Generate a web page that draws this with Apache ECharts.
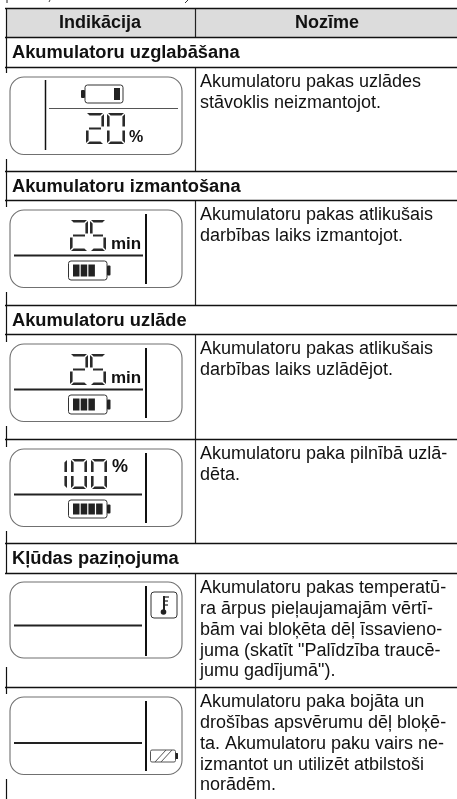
<!DOCTYPE html>
<html>
<head>
<meta charset="utf-8">
<style>html,body{margin:0;padding:0;background:#fff}#chart{width:457px;height:799px}</style>
<script src="https://cdn.jsdelivr.net/npm/echarts@6/dist/echarts.min.js"></script>
</head>
<body>
<div id="chart"></div>
<script>
const headers = ["Indikācija", "Nozīme"];
const sections = ["Akumulatoru uzglabāšana", "Akumulatoru izmantošana", "Akumulatoru uzlāde", "Kļūdas paziņojuma"];
const meanings = [
  ["Akumulatoru pakas uzlādes", "stāvoklis neizmantojot."],
  ["Akumulatoru pakas atlikušais", "darbības laiks izmantojot."],
  ["Akumulatoru pakas atlikušais", "darbības laiks uzlādējot."],
  ["Akumulatoru paka pilnībā uzlā-", "dēta."],
  ["Akumulatoru pakas temperatū-", "ra ārpus pieļaujamajām vērtī-", "bām vai bloķēta dēļ īssavieno-", "juma (skatīt \"Palīdzība traucē-", "jumu gadījumā\")."],
  ["Akumulatoru paka bojāta un", "drošības apsvērumu dēļ bloķē-", "ta. Akumulatoru paku vairs ne-", "izmantot un utilizēt atbilstoši", "norādēm."]
];
const displayDigits = ["20", "25", "25", "100", "", ""];
const displayUnits = ["%", "min", "min", "%", "", ""];
const batteryBars = [1, 3, 3, 4, 0, 0];

// layout of the table, in picture pixels
const ruleY = [8, 37, 67, 171, 200, 305, 334, 439, 543, 573, 687];
const leftRule = [[8, 73], [159, 207], [292, 342], [426, 447], [531, 573], [667, 694], [779, 799]];
const rowTextY = [67, 200, 334, 439, 573, 687];
const panelY = [77, 210, 344, 449, 582, 697];
const colX = 195;
const FONT = "'Liberation Sans'";

const SEG = {
  0: "abcdef", 1: "bc", 2: "abged", 5: "afgcd"
};

function line(api, x1, y1, x2, y2, w, color) {
  const a = api.coord([x1, y1]), b = api.coord([x2, y2]);
  return { type: "line", shape: { x1: a[0], y1: a[1], x2: b[0], y2: b[1] }, style: { stroke: color || "#111", lineWidth: w } };
}
function box(api, x, y, w, h, r, style) {
  const a = api.coord([x, y]);
  return { type: "rect", shape: { x: a[0], y: a[1], width: w, height: h, r: r }, style: style };
}
function poly(api, pts, fill) {
  return { type: "polygon", shape: { points: pts.map(p => api.coord(p)) }, style: { fill: fill || "#2a2a2a" } };
}
function label(api, x, y, s, font, align) {
  const a = api.coord([x, y]);
  return { type: "text", style: { x: a[0], y: a[1], text: s, font: font, align: align || "left", verticalAlign: "middle", fill: "#111" } };
}

// seven segment digit, thin bevelled strokes
function digit(api, ch, x, y, w, h) {
  const t = 2.6, g = 1, m = y + h / 2, out = [];
  const on = SEG[ch] || "";
  const s = {
    a: [[x + g, y], [x + w - g, y], [x + w - g - t, y + t], [x + g + t, y + t]],
    d: [[x + g, y + h], [x + w - g, y + h], [x + w - g - t, y + h - t], [x + g + t, y + h - t]],
    g: [[x + 3, m - 1], [x + w - 3, m - 1], [x + w - 3, m + 1], [x + 3, m + 1]],
    f: [[x, y + g], [x + t, y + g + t], [x + t, m - 2], [x, m - 2]],
    e: [[x, y + h - g], [x + t, y + h - g - t], [x + t, m + 2], [x, m + 2]],
    b: [[x + w, y + g], [x + w - t, y + g + t], [x + w - t, m - 2], [x + w, m - 2]],
    c: [[x + w, y + h - g], [x + w - t, y + h - g - t], [x + w - t, m + 2], [x + w, m + 2]]
  };
  for (const k of on) out.push(poly(api, s[k]));
  return out;
}

function battery(api, x, y, w, h, bars, nubLeft) {
  const out = [box(api, x, y, w, h, 2.5, { fill: "#fff", stroke: "#333", lineWidth: 1 })];
  if (nubLeft) {
    out.push(box(api, x - 4, y + 5, 4, h - 10, 1, { fill: "#222" }));
    out.push(box(api, x + w - 9, y + 3, 6, h - 6, 0, { fill: "#222" }));
  } else {
    out.push(box(api, x + w, y + 4.5, 3.5, h - 9, 1, { fill: "#222" }));
    for (let i = 0; i < bars; i++) out.push(box(api, x + 4.5 + i * 7.7, y + 3.5, 6.5, h - 7, 0, { fill: "#222" }));
  }
  return out;
}

function renderPanel(params, api) {
  const i = api.value(0), y0 = panelY[i], kids = [];
  kids.push(box(api, 10, y0, 172, i === 4 ? 76 : 77.5, 14, { fill: "#fff", stroke: "#707070", lineWidth: 1.1 }));
  const digits = displayDigits[i], unit = displayUnits[i], bars = batteryBars[i];
  if (i === 0) {
    kids.push(line(api, 45.5, y0 + 3, 45.5, y0 + 73, 1.5, "#111"));
    kids.push(line(api, 49, y0 + 31.5, 178, y0 + 31.5, 1, "#555"));
    kids.push(...battery(api, 85, y0 + 8, 38, 18, bars, true));
    kids.push(...digit(api, digits[0], 86, y0 + 36, 18, 31));
    kids.push(...digit(api, digits[1], 107, y0 + 36, 18, 31));
    kids.push(label(api, 129, y0 + 61, unit, "bold 16px " + FONT));
  } else {
    kids.push(line(api, 146, y0 + 4, 146, y0 + 74, 2, "#111"));
    const hy = i === 4 ? 43.5 : i === 5 ? 46 : 45.5;
    kids.push(line(api, 14, y0 + hy, i === 1 || i === 2 ? 143 : 142, y0 + hy, 2, "#222"));
    if (i === 1 || i === 2) {
      kids.push(...digit(api, digits[0], 70, y0 + 10, 18, 31));
      kids.push(...digit(api, digits[1], 90, y0 + 10, 16, 31));
      kids.push(label(api, 111, y0 + 34, unit, "bold 17px " + FONT));
      kids.push(...battery(api, 68.5, y0 + 51, 38.5, 19, bars));
    }
    if (i === 3) {
      kids.push(...digit(api, digits[0], 63, y0 + 10, 4, 30));
      kids.push(...digit(api, digits[1], 71, y0 + 10, 16, 30));
      kids.push(...digit(api, digits[2], 91, y0 + 10, 16, 30));
      kids.push(label(api, 112, y0 + 18, unit, "bold 18px " + FONT));
      kids.push(...battery(api, 68.5, y0 + 51, 38.5, 18, bars));
    }
    if (i === 4) {
      kids.push(box(api, 151, y0 + 10, 26, 26, 3, { fill: "#fff", stroke: "#333", lineWidth: 1 }));
      kids.push(line(api, 164, y0 + 14, 164, y0 + 30, 2, "#222"));
      kids.push(line(api, 165, y0 + 15, 169, y0 + 15, 1.2, "#222"));
      kids.push(line(api, 165, y0 + 19, 168, y0 + 19, 1.2, "#222"));
      kids.push(line(api, 165, y0 + 23, 168, y0 + 23, 1.2, "#222"));
      const c = api.coord([163.5, y0 + 30]);
      kids.push({ type: "circle", shape: { cx: c[0], cy: c[1], r: 2.8 }, style: { fill: "#222" } });
    }
    if (i === 5) {
      kids.push(box(api, 150.5, y0 + 53, 25, 12, 1.5, { fill: "#fff", stroke: "#555", lineWidth: 1 }));
      kids.push(box(api, 175.5, y0 + 56, 2.5, 6, 0.5, { fill: "#222" }));
      kids.push(line(api, 155, y0 + 65, 166, y0 + 53, 1, "#555"));
      kids.push(line(api, 161, y0 + 65, 172, y0 + 53, 1, "#555"));
    }
  }
  return { type: "group", children: kids };
}

function renderTable(params, api) {
  const kids = [];
  kids.push(box(api, 6, ruleY[0], 451, ruleY[1] - ruleY[0], 0, { fill: "#dcdcdc" }));
  // top edge of the page text, cut off by the crop
  kids.push(line(api, 7, 0, 7, 3, 1, "#222"), line(api, 50, 0, 49, 2, 1, "#444"), line(api, 188, 0, 185, 3, 1, "#333"));
  kids.push(label(api, 100, 23, headers[0], "bold 18px " + FONT, "center"));
  kids.push(label(api, 327, 23, headers[1], "bold 18px " + FONT, "center"));
  // section titles sit between the rules 1-2, 3-4, 5-6, 8-9
  [[1, 0], [3, 1], [5, 2], [8, 3]].forEach(p => {
    kids.push(label(api, 12, ruleY[p[0]] + 15.5, sections[p[1]], "bold 18.3px " + FONT));
  });
  meanings.forEach((rows, i) => {
    rows.forEach((s, j) => kids.push(label(api, 200, rowTextY[i] + 15.5 + j * 20.7, s, "18px " + FONT)));
  });
  // column rule skips the section rows
  kids.push(line(api, colX + 0.5, ruleY[0], colX + 0.5, ruleY[1], 1.2, "#222"));
  [[2, 3], [4, 5], [6, 7], [7, 8], [9, 10]].forEach(p => {
    kids.push(line(api, colX + 0.5, ruleY[p[0]], colX + 0.5, ruleY[p[1]], 1.2, "#222"));
  });
  kids.push(line(api, colX + 0.5, ruleY[10], colX + 0.5, 799, 1.2, "#222"));
  leftRule.forEach(r => kids.push(line(api, 6.5, r[0], 6.5, r[1], 1.2, "#111")));
  ruleY.forEach(y => kids.push(line(api, 5, y + 0.5, 457, y + 0.5, 1.3, "#111")));
  return { type: "group", children: kids };
}

const chart = echarts.init(document.getElementById("chart"), null, { renderer: "canvas" });
chart.setOption({
  animation: false,
  grid: { left: 0, right: 0, top: 0, bottom: 0 },
  xAxis: { type: "value", min: 0, max: 457, show: false },
  yAxis: { type: "value", min: 0, max: 799, inverse: true, show: false },
  series: [
    { type: "custom", coordinateSystem: "cartesian2d", clip: false, silent: true, data: [[0]], renderItem: renderTable, z: 1 },
    { type: "custom", coordinateSystem: "cartesian2d", clip: false, silent: true, data: meanings.map((m, i) => [i]), renderItem: renderPanel, z: 2 }
  ]
});
</script>
</body>
</html>
